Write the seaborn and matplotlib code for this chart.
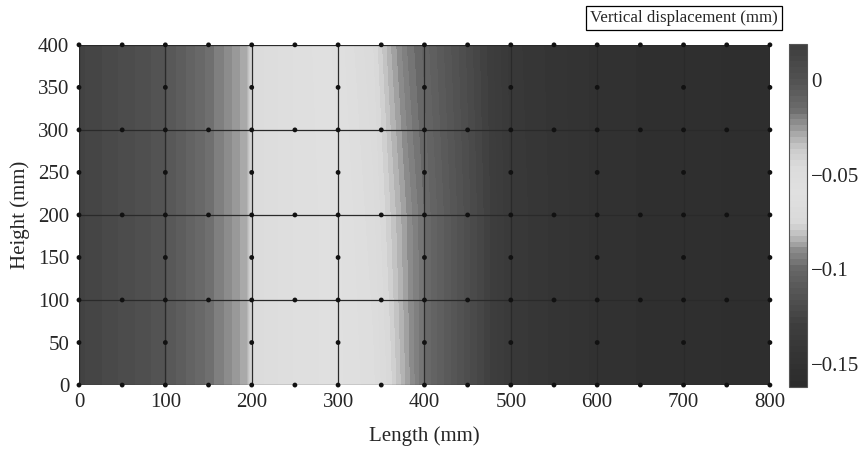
import matplotlib
matplotlib.use("Agg")
import matplotlib.pyplot as plt
from matplotlib.colors import LinearSegmentedColormap
import numpy as np
import pandas as pd
import seaborn as sns

sns.set_theme(style="white")
plt.rcParams["font.family"] = ["Liberation Serif", "DejaVu Serif"]
plt.rcParams["axes.unicode_minus"] = True

# sample positions along the length (mm) and the three height rows
x_pos = [0, 50, 100, 150, 175, 195, 200, 250, 300, 340, 360, 380, 400, 450, 500, 600, 700, 800]
y_pos = [0, 200, 400]

# vertical displacement (mm) at each sample, one list per height row
disp_y0 = [0.014, 0.006, -0.002, -0.016, -0.023, -0.030, -0.046, -0.055, -0.060, -0.066, -0.075,
           -0.087, -0.098, -0.118, -0.138, -0.151, -0.155, -0.157]
disp_y200 = [0.014, 0.006, -0.002, -0.016, -0.023, -0.030, -0.046, -0.055, -0.060, -0.069, -0.079,
             -0.089, -0.098, -0.118, -0.138, -0.151, -0.155, -0.157]
disp_y400 = [0.014, 0.006, -0.002, -0.016, -0.023, -0.030, -0.046, -0.055, -0.062, -0.073, -0.085,
             -0.095, -0.102, -0.120, -0.139, -0.151, -0.155, -0.157]

# grey levels of the colour bar (value -> grey)
cmap_vals = [-0.162, -0.13, -0.10, -0.09, -0.082, -0.075, -0.06, -0.045, -0.035, -0.025,
             -0.015, 0.0, 0.019]
cmap_grey = [0.17, 0.24, 0.40, 0.55, 0.75, 0.85, 0.88, 0.86, 0.78, 0.60, 0.42, 0.32, 0.24]

# finite element mesh: element edges and node spacing
elem_x = [0, 100, 200, 300, 400, 500, 600, 700, 800]
elem_y = [0, 100, 200, 300, 400]
node_step = [0, 50, 100, 150, 200, 250, 300, 350, 400, 450, 500, 550, 600, 650, 700, 750, 800]

vmin, vmax = cmap_vals[0], cmap_vals[-1]
span = vmax - vmin
cmap = LinearSegmentedColormap.from_list(
    "grey_disp",
    [((v - vmin) / span, (g, g, g)) for v, g in zip(cmap_vals, cmap_grey)],
)

Z = np.array([disp_y0, disp_y200, disp_y400])
X, Y = np.meshgrid(x_pos, y_pos)

fig = plt.figure(figsize=(8.68, 4.53), dpi=100)
ax = fig.add_axes([0.091, 0.150, 0.796, 0.751])
cax = fig.add_axes([0.909, 0.146, 0.021, 0.757])

levels = np.linspace(vmin, vmax, 60)
cf = ax.contourf(X, Y, Z, levels=levels, cmap=cmap, vmin=vmin, vmax=vmax)

# mesh lines
for xv in elem_x:
    ax.plot([xv, xv], [0, 400], color="#2a2a2a", lw=0.9, zorder=3)
for yv in elem_y:
    ax.plot([0, 800], [yv, yv], color="#2a2a2a", lw=0.9, zorder=3)

# mesh nodes (8-node quads): along horizontal edges every 50, along vertical edges every 50
nodes = []
for yv in elem_y:
    for xv in node_step:
        nodes.append((xv, yv))
for xv in elem_x:
    for yv in node_step:
        if yv <= 400 and yv not in elem_y:
            nodes.append((xv, yv))
nodes = pd.DataFrame(nodes, columns=["x", "y"])
sns.scatterplot(data=nodes, x="x", y="y", ax=ax, color="#111111", s=12,
                edgecolor="none", zorder=4, legend=False, clip_on=False)

ax.set_xlim(0, 800)
ax.set_ylim(0, 400)
ax.set_xticks(range(0, 801, 100))
ax.set_yticks(range(0, 401, 50))
ax.tick_params(axis="x", labelsize=15, length=0, pad=6)
ax.tick_params(axis="y", labelsize=15, length=0, pad=7)
ax.set_xlabel("Length (mm)", fontsize=15, labelpad=10)
ax.set_ylabel("Height (mm)", fontsize=15, labelpad=6)
for sp in ax.spines.values():
    sp.set_visible(False)

cb = fig.colorbar(cf, cax=cax)
cb.set_ticks([0, -0.05, -0.1, -0.15])
cb.set_ticklabels(["0", "\u22120.05", "\u22120.1", "\u22120.15"])
cax.tick_params(labelsize=15, direction="in", length=3, width=0.8,
                color="#444444", left=True, right=True, pad=3)
cb.outline.set_edgecolor("#555555")
cb.outline.set_linewidth(0.8)

fig.text(0.788, 0.960, "Vertical displacement (mm)", fontsize=12.2, ha="center", va="center",
         bbox={"boxstyle": "square,pad=0.22", "fc": "white", "ec": "black", "lw": 0.9})

fig.savefig("out.png", dpi=100)
